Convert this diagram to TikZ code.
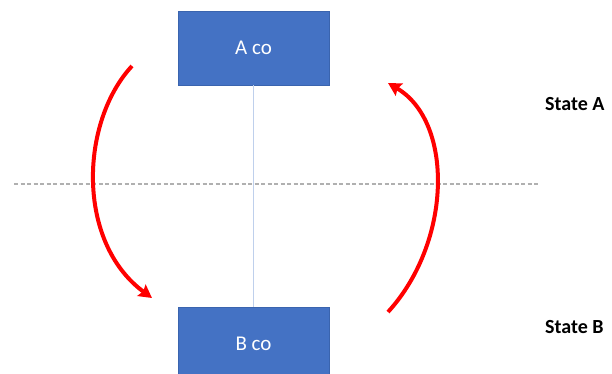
\documentclass[tikz,border=0pt]{standalone}
\usepackage{fontspec}
\setmainfont{Carlito}
\usetikzlibrary{arrows.meta}
\definecolor{boxblue}{HTML}{4472C4}
\definecolor{boxedge}{HTML}{3A64AE}
\definecolor{axisblue}{HTML}{BFD0EC}
\definecolor{dashgray}{HTML}{B0B0B0}
\tikzset{
  cobox/.style={rectangle, fill=boxblue, draw=boxedge, line width=0.6pt,
    minimum width=151pt, minimum height=74pt, inner sep=0pt,
    text=white, font=\fontsize{21}{24}\selectfont},
  statelabel/.style={font=\bfseries\fontsize{20}{24}\selectfont, anchor=west, inner sep=0pt},
  turn/.style={draw=red, line width=4pt, -{Stealth[length=13pt,width=14pt,inset=2pt]}},
  axis/.style={draw=axisblue, line width=1.6pt},
  divider/.style={draw=dashgray, line width=1.4pt, dash pattern=on 4pt off 2.5pt}
}
\begin{document}
\begin{tikzpicture}[x=1pt,y=-1pt]
\useasboundingbox (0,0) rectangle (612,374);
\clip (0,0) rectangle (612,374);
\fill[white] (0,0) rectangle (612,374);
\coordinate (dl) at (14,184);
\coordinate (dr) at (538,184);
\draw[divider] (dl) -- (dr);
\node[cobox] (A) at (253.5,48) {A co};
\node[cobox] (B) at (253.5,344) {B co};
\draw[axis] (A.south) -- (B.north);
\node[statelabel] (SA) at (545,104) {State A};
\node[statelabel] (SB) at (545,327) {State B};
\coordinate (l0) at (132,66);
\coordinate (l1) at (152,298);
\coordinate (r0) at (388,312);
\coordinate (r1) at (388,83);
\draw[turn] (l0) .. controls (80,122) and (76,242) .. (l1);
\draw[turn] (r0) .. controls (452,242) and (454,122) .. (r1);
\end{tikzpicture}
\end{document}
